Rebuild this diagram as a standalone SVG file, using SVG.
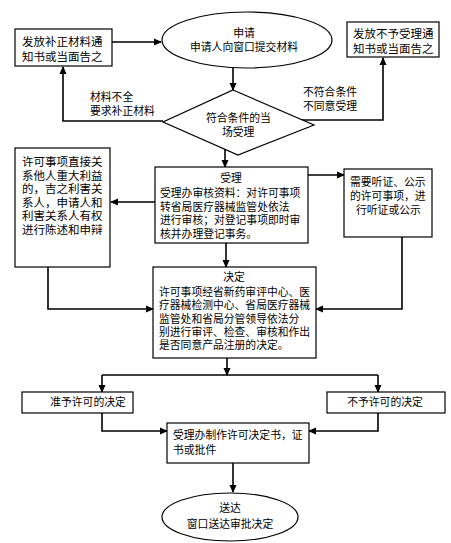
<svg xmlns="http://www.w3.org/2000/svg" width="451" height="543" viewBox="0 0 451 543">
<style>
text{font-family:"Noto Sans CJK SC","Liberation Sans",sans-serif;font-size:10.8px;fill:#000}
.l{font-size:11.5px}
.b{fill:#fff;stroke:#000;stroke-width:1.2}
.c{fill:none;stroke:#000;stroke-width:1.6}
.m{text-anchor:middle}
</style>
<defs>
<marker id="a" markerWidth="8" markerHeight="8" refX="7" refY="4" orient="auto" markerUnits="userSpaceOnUse">
<path d="M0,0.5 L8,4 L0,7.5 z" fill="#000"/>
</marker>
</defs>
<rect width="451" height="543" fill="#fff"/>
<g id="connectors">
<path class="c" d="M112,42 L161,42" marker-end="url(#a)"/>
<path class="c" d="M233,68 L233,90" marker-end="url(#a)"/>
<path class="c" d="M163,121 L63,121 L63,67" marker-end="url(#a)"/>
<path class="c" d="M300,120 L383,120 L383,58" marker-end="url(#a)"/>
<path class="c" d="M225,149 L225,167" marker-end="url(#a)"/>
<path class="c" d="M155,202 L111,202" marker-end="url(#a)"/>
<path class="c" d="M308,175 L344,175" marker-end="url(#a)"/>
<path class="c" d="M226,243 L226,267" marker-end="url(#a)"/>
<path class="c" d="M48,267 L48,309 L153,309" marker-end="url(#a)"/>
<path class="c" d="M402,237 L402,309 L316,309" marker-end="url(#a)"/>
<path class="c" d="M227,358 L227,375" marker-end="url(#a)"/>
<path class="c" d="M102,375 L378,375"/>
<path class="c" d="M102,375 L102,392" marker-end="url(#a)"/>
<path class="c" d="M378,375 L378,392" marker-end="url(#a)"/>
<path class="c" d="M102,413 L102,431 L167,431" marker-end="url(#a)"/>
<path class="c" d="M378,413 L378,431 L309,431" marker-end="url(#a)"/>
<path class="c" d="M233,463 L233,492" marker-end="url(#a)"/>
<text x="90" y="101">材料不全<tspan x="90" dy="14">要求补正材料</tspan></text>
<text x="303" y="96">不符合条件<tspan x="303" dy="14">不同意受理</tspan></text>
</g>
<g id="n-buzheng">
<rect class="b" x="15" y="29" width="97" height="37"/>
<text class="l" x="22" y="46">发放补正材料通<tspan x="22" dy="15">知书或当面告之</tspan></text>
</g>
<g id="n-shenqing">
<ellipse class="b" cx="247" cy="40" rx="85" ry="28"/>
<text class="m" x="244" y="37">申请<tspan x="244" dy="14">申请人向窗口提交材料</tspan></text>
</g>
<g id="n-buyu">
<rect class="b" x="347" y="22" width="92" height="35"/>
<text class="l" x="353" y="38">发放不予受理通<tspan x="353" dy="15">知书或当面告之</tspan></text>
</g>
<g id="n-fuhe">
<polygon class="b" points="233,90 314,125 238,155 163,122"/>
<text x="206" y="122">符合条件的当<tspan x="222" dy="14">场受理</tspan></text>
</g>
<g id="n-shouli">
<rect class="b" x="155" y="167" width="153" height="76"/>
<text x="160" y="182"><tspan class="m" x="231">受理</tspan><tspan x="160" dy="15">受理办审核资料：对许可事项</tspan><tspan x="160" dy="13.5">转省局医疗器械监管处依法</tspan><tspan x="160" dy="13.5">进行审核；对登记事项即时审</tspan><tspan x="160" dy="13.5">核并办理登记事务。</tspan></text>
</g>
<g id="n-tingzheng">
<rect class="b" x="344" y="169" width="88" height="68"/>
<text x="350" y="186">需要听证、公示<tspan x="350" dy="14">的许可事项，进</tspan><tspan x="356" dy="14">行听证或公示</tspan></text>
</g>
<g id="n-lihai">
<rect class="b" x="15" y="148" width="95" height="119"/>
<text class="l" x="22" y="166">许可事项直接关<tspan x="22" dy="13.6">系他人重大利益</tspan><tspan x="22" dy="13.6">的，吉之利害关</tspan><tspan x="22" dy="13.6">系人，申请人和</tspan><tspan x="22" dy="13.6">利害关系人有权</tspan><tspan x="22" dy="13.6">进行陈述和申辩</tspan></text>
</g>
<g id="n-jueding">
<rect class="b" x="153" y="267" width="163" height="91"/>
<text x="159" y="281"><tspan class="m" x="234">决定</tspan><tspan x="159" dy="15">许可事项经省新药审评中心、医</tspan><tspan x="159" dy="13.3">疗器械检测中心、省局医疗器械</tspan><tspan x="159" dy="13.3">监管处和省局分管领导依法分</tspan><tspan x="159" dy="13.3">别进行审评、检查、审核和作出</tspan><tspan x="159" dy="13.3">是否同意产品注册的决定。</tspan></text>
</g>
<g id="n-zhunyu">
<rect class="b" x="22" y="392" width="111" height="21"/>
<text class="m" x="88" y="406">准予许可的决定</text>
</g>
<g id="n-buyuxuke">
<rect class="b" x="327" y="392" width="118" height="21"/>
<text class="m" x="385" y="406">不予许可的决定</text>
</g>
<g id="n-zhizuo">
<rect class="b" x="167" y="423" width="142" height="40"/>
<text x="173" y="439">受理办制作许可决定书，证<tspan x="173" dy="15">书或批件</tspan></text>
</g>
<g id="n-songda">
<ellipse class="b" cx="230" cy="517" rx="68" ry="24"/>
<text class="m" x="230" y="512">送达<tspan x="230" dy="16">窗口送达审批决定</tspan></text>
</g>
</svg>
